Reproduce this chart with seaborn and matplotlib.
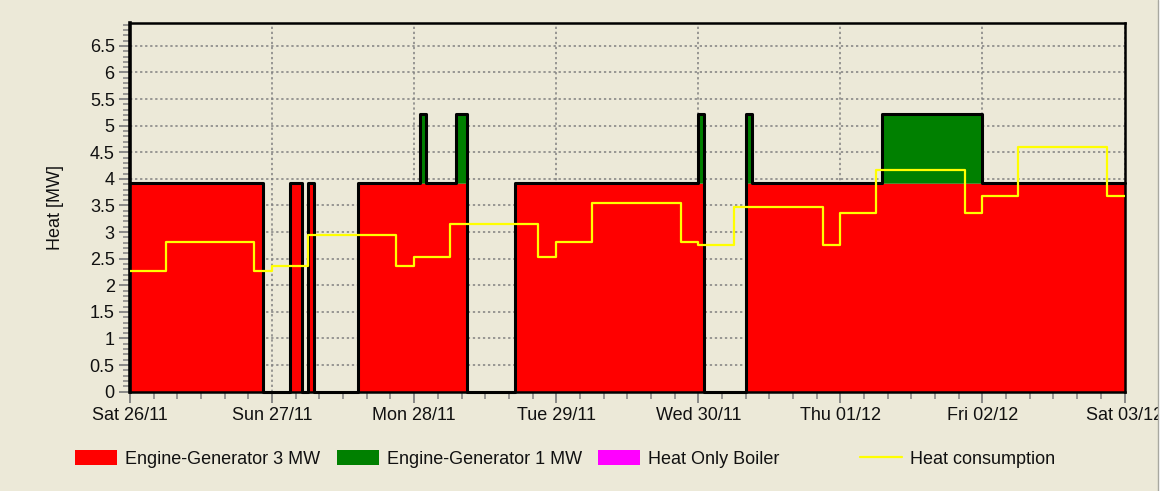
import matplotlib
matplotlib.use("Agg")
import matplotlib.pyplot as plt
import seaborn as sns
import numpy as np
from matplotlib.ticker import MultipleLocator, FormatStrFormatter
from matplotlib.patches import Patch, Rectangle
from matplotlib.lines import Line2D

sns.set_theme(style="ticks")
plt.rcParams["font.family"] = ["Liberation Sans", "DejaVu Sans"]

# ---------------- data ----------------
day_tick_hours = [0, 24, 48, 72, 96, 120, 144, 168]
day_labels = ["Sat 26/11", "Sun 27/11", "Mon 28/11", "Tue 29/11",
              "Wed 30/11", "Thu 01/12", "Fri 02/12", "Sat 03/12"]

# Engine-Generator 3 MW on-periods (hours from Sat 26/11 00:00)
eg3_on_start = [0, 27, 30, 38.5, 65, 104]
eg3_on_end = [22.5, 29, 31, 57, 97, 168]
eg3_level = 3.92

# Engine-Generator 1 MW on-periods (stacked on top)
eg1_on_start = [49, 55, 96, 104, 127]
eg1_on_end = [50, 57, 97, 105, 144]
eg1_level = 1.30

# Heat Only Boiler: not used in this period
hob_level = 0.0

# Heat consumption (step changes)
heat_step_hours = [0, 6, 21, 24, 30, 45, 48, 54, 69, 72, 78, 93, 96,
                   102, 117, 120, 126, 141, 144, 150, 165]
heat_values = [2.27, 2.82, 2.26, 2.37, 2.95, 2.37, 2.53, 3.15, 2.53, 2.82,
               3.54, 2.82, 2.76, 3.48, 2.76, 3.35, 4.17, 3.35, 3.67, 4.59, 3.67]

series_labels = ["Engine-Generator 3 MW", "Engine-Generator 1 MW",
                 "Heat Only Boiler", "Heat consumption"]
series_colors = ["#FF0000", "#008000", "#FF00FF", "#FFFF00"]

# ---------------- build step series ----------------
t = np.arange(0, 168.5, 0.5)


def on_series(starts, ends, level):
    v = np.zeros_like(t)
    for s, e in zip(starts, ends):
        v[(t >= s) & (t < e)] = level
    v[-1] = v[-2]
    return v


red = on_series(eg3_on_start, eg3_on_end, eg3_level)
green = on_series(eg1_on_start, eg1_on_end, eg1_level)
total = red + green

heat_x = heat_step_hours + [168]
heat_y = heat_values + [heat_values[-1]]

# ---------------- figure ----------------
bg = "#ECE9D8"
W, H = 1165, 491
fig = plt.figure(figsize=(W / 100, H / 100), dpi=100, facecolor=bg)
ax = fig.add_axes([130 / W, 1 - 391.7 / H, 994.5 / W, 368.7 / H])
ax.set_facecolor(bg)

ax.fill_between(t, 0, red, step="post", color=series_colors[0], lw=0, zorder=2)
ax.fill_between(t, red, total, step="post", color=series_colors[1], lw=0, zorder=2)
ax.step(t, total, where="post", color="black", lw=2.2, zorder=3, clip_on=False)
sns.lineplot(x=heat_x, y=heat_y, drawstyle="steps-post", color=series_colors[3],
             lw=1.6, ax=ax, zorder=4, estimator=None, legend=False)

ax.set_xlim(0, 168)
ax.set_ylim(0, 6.93)
ax.set_xticks(day_tick_hours)
ax.set_xticklabels(day_labels)
ax.xaxis.set_minor_locator(MultipleLocator(4))
ax.set_yticks(np.arange(0, 6.51, 0.5))
ax.yaxis.set_major_formatter(FormatStrFormatter("%g"))
ax.yaxis.set_minor_locator(MultipleLocator(0.1))

ax.tick_params(axis="both", which="major", direction="out", length=8, width=1.3,
               color="#808080", labelsize=13, labelcolor="#111111", pad=3)
ax.tick_params(axis="both", which="minor", direction="out", length=5, width=1.1,
               color="#808080")

ax.set_axisbelow(True)
ax.grid(True, which="major", linestyle=(0, (1.5, 1.8)), color="#808080", lw=1.1)

for s in ax.spines.values():
    s.set_color("black")
    s.set_linewidth(1.8)
ax.spines["left"].set_linewidth(2.6)

ax.set_xlabel("")
ax.set_ylabel("Heat [MW]", fontsize=13, color="#111111")
ax.yaxis.set_label_coords(-0.066, 0.5)

# ---------------- legend ----------------
handles = [Patch(facecolor=series_colors[0], edgecolor="none"),
           Patch(facecolor=series_colors[1], edgecolor="none"),
           Patch(facecolor=series_colors[2], edgecolor="none"),
           Line2D([0], [0], color=series_colors[3], lw=1.6)]
legend_x = [75, 337, 598, 860]
for h, lab, x0 in zip(handles, series_labels, legend_x):
    fig.legend(handles=[h], labels=[lab], loc="center left",
               bbox_to_anchor=(x0 / W, 1 - 459 / H), frameon=False,
               fontsize=13, handlelength=2.33, handleheight=0.89,
               handletextpad=0.45, borderpad=0, borderaxespad=0,
               labelcolor="#111111")

# right-hand window edge
fig.add_artist(Rectangle((1157.5 / W, 0), 1, 1, transform=fig.transFigure,
                         facecolor="white", edgecolor="none", zorder=10))
fig.add_artist(Line2D([1157.5 / W, 1157.5 / W], [0, 1], transform=fig.transFigure,
                      color="#A8A8A0", lw=1, zorder=11))

fig.savefig("out.png", dpi=100, facecolor=bg)
